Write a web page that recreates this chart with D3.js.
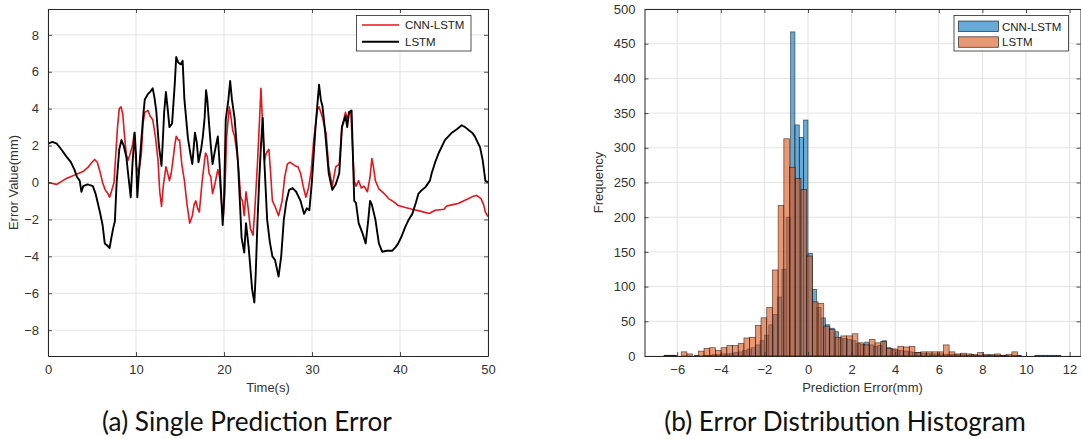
<!DOCTYPE html>
<html><head><meta charset="utf-8">
<script src="https://cdn.jsdelivr.net/npm/d3@7"></script>
<style>body{margin:0;background:#fff}svg{display:block}</style>
</head><body>
<svg id="c" width="1081" height="439"></svg>
<script>
// ---------- Data: (a) single prediction error ----------
const cnnLstmLine = [[0,0.0],[0.5,-0.05],[1,-0.1],[1.5,0.05],[2,0.2],[2.5,0.3],[3,0.4],[3.5,0.5],[4,0.6],[4.5,0.8],[5,1.1],[5.3,1.25],[5.6,1.1],[5.9,0.6],[6.2,0.0],[6.5,-0.4],[6.8,-0.6],[7,-0.8],[7.2,-0.5],[7.5,0.0],[7.7,1.5],[7.9,3.0],[8.1,4.0],[8.3,4.1],[8.5,3.7],[8.7,2.5],[8.9,1.5],[9.1,1.2],[9.3,1.5],[9.6,2.0],[9.8,2.7],[10.0,1.0],[10.1,0.8],[10.3,0.5],[10.6,1.5],[10.8,3.2],[11.0,3.8],[11.36,3.9],[11.6,3.6],[11.9,3.4],[12.2,2.5],[12.5,1.2],[12.7,-0.5],[12.9,-1.3],[13.1,-0.2],[13.4,0.85],[13.6,0.5],[13.8,0.1],[14.0,0.5],[14.2,1.2],[14.4,2.0],[14.57,2.5],[14.8,2.3],[14.95,2.3],[15.2,1.0],[15.5,0.1],[15.8,-1.2],[16.1,-2.2],[16.4,-1.8],[16.6,-1.2],[16.8,-1.0],[17.0,-1.4],[17.2,-1.6],[17.5,0.0],[17.9,1.6],[18.1,1.4],[18.3,0.5],[18.5,0.3],[18.7,-0.6],[19.0,0.0],[19.3,0.7],[19.5,0.3],[19.7,-1.0],[19.9,-2.0],[20.1,-0.5],[20.3,2.5],[20.6,4.1],[20.8,3.5],[21.0,2.8],[21.2,2.5],[21.5,1.5],[21.7,0.5],[21.9,-0.8],[22.1,-1.0],[22.3,-1.8],[22.5,-0.5],[22.7,-1.2],[23.0,-2.5],[23.3,-2.85],[23.5,-1.5],[23.8,1.0],[24.0,3.0],[24.2,5.1],[24.4,3.0],[24.6,1.2],[24.8,1.6],[25.1,1.8],[25.3,0.5],[25.5,-1.0],[25.8,-1.3],[26.2,-1.8],[26.6,-1.0],[26.9,0.3],[27.2,1.0],[27.5,1.1],[27.8,1.0],[28.1,0.9],[28.4,0.85],[28.7,0.5],[29.0,-0.2],[29.3,-0.8],[29.6,-0.3],[29.9,0.6],[30.2,2.3],[30.6,3.9],[30.8,4.1],[31.0,3.8],[31.2,3.5],[31.6,2.65],[31.9,0.85],[32.3,-0.2],[32.7,0.85],[33.1,1.0],[33.4,3.0],[33.8,3.8],[34.0,3.5],[34.2,3.7],[34.4,3.9],[34.6,2.0],[34.8,0.1],[35.0,-0.2],[35.3,0.1],[35.6,-0.3],[35.9,-0.2],[36.3,-0.5],[36.6,0.3],[36.8,1.3],[37.0,0.8],[37.2,0.1],[37.6,-0.35],[38.2,-0.6],[38.7,-0.87],[39.3,-1.05],[39.8,-1.25],[40.6,-1.35],[41.4,-1.45],[42.3,-1.55],[43.3,-1.68],[44.0,-1.5],[45.0,-1.45],[45.3,-1.27],[46.0,-1.2],[46.6,-1.14],[47.2,-1.0],[47.8,-0.87],[48.3,-0.75],[48.7,-0.7],[49.2,-0.87],[49.5,-1.2],[49.7,-1.6],[50,-1.85]];
const lstmLine = [[0,2.1],[0.5,2.2],[1.0,2.1],[1.5,1.8],[2.1,1.4],[2.6,1.1],[3.0,0.7],[3.3,0.3],[3.6,0.1],[3.8,-0.5],[4.0,-0.2],[4.5,-0.1],[5.1,-0.2],[5.4,-0.6],[5.9,-1.6],[6.2,-2.3],[6.45,-3.3],[6.7,-3.4],[7.0,-3.55],[7.2,-3.0],[7.4,-2.5],[7.6,-2.1],[7.8,0.0],[8.1,1.8],[8.35,2.3],[8.6,2.0],[8.9,1.4],[9.1,0.5],[9.4,-0.8],[9.6,1.0],[9.85,2.7],[10.0,1.5],[10.15,-0.8],[10.4,1.0],[10.8,3.5],[11.0,4.5],[11.36,4.8],[11.6,4.9],[11.9,5.1],[12.1,4.6],[12.3,3.9],[12.6,2.0],[12.9,0.9],[13.05,2.3],[13.2,3.8],[13.4,4.9],[13.6,4.0],[13.8,3.0],[14.1,3.2],[14.4,5.3],[14.57,6.8],[14.8,6.5],[15.1,6.4],[15.3,6.6],[15.5,4.5],[15.9,2.4],[16.2,1.5],[16.4,1.0],[16.7,2.7],[16.9,2.2],[17.1,1.1],[17.4,1.8],[17.6,2.5],[17.8,3.5],[17.96,5.0],[18.1,4.5],[18.3,3.2],[18.5,2.0],[18.7,1.0],[19.0,1.8],[19.3,2.5],[19.5,1.0],[19.85,-2.3],[20.0,-1.0],[20.2,3.4],[20.5,4.5],[20.7,5.5],[20.9,4.5],[21.2,3.5],[21.4,2.3],[21.6,1.0],[21.8,-1.0],[22.0,-3.0],[22.3,-3.8],[22.5,-2.2],[22.8,-3.5],[23.2,-5.8],[23.45,-6.5],[23.6,-5.0],[23.8,-2.2],[24.0,0.1],[24.2,2.0],[24.4,3.5],[24.6,1.0],[24.9,-2.0],[25.2,-3.2],[25.5,-4.0],[25.8,-4.2],[26.2,-5.1],[26.5,-4.0],[26.8,-2.0],[27.1,-1.0],[27.4,-0.4],[27.8,-0.3],[28.2,-0.5],[28.7,-1.0],[29.1,-1.7],[29.4,-1.4],[29.7,-1.5],[30.0,0.1],[30.4,3.0],[30.8,5.3],[31.0,4.5],[31.2,4.1],[31.5,2.7],[31.9,0.5],[32.3,-0.4],[32.7,-0.1],[33.1,0.5],[33.4,3.0],[33.8,3.6],[34.0,3.0],[34.2,3.8],[34.5,3.9],[34.8,-1.0],[35.0,-1.1],[35.3,-2.2],[35.7,-2.7],[36.1,-3.3],[36.4,-2.0],[36.6,-1.0],[36.8,-1.2],[37.2,-2.0],[37.6,-3.3],[37.97,-3.75],[38.5,-3.7],[39.1,-3.7],[39.5,-3.5],[39.8,-3.3],[40.2,-2.9],[40.6,-2.4],[41.0,-2.0],[41.4,-1.7],[41.8,-1.1],[42.1,-0.6],[42.5,-0.4],[42.9,-0.25],[43.4,0.1],[43.6,0.5],[44.0,1.1],[44.4,1.6],[44.8,2.0],[45.1,2.3],[45.5,2.5],[45.9,2.7],[46.5,2.9],[47.0,3.1],[47.4,3.0],[47.8,2.85],[48.2,2.7],[48.5,2.5],[48.8,2.2],[49.1,1.9],[49.4,1.2],[49.7,0.1],[50,0.0]];
const timeTicks = [0,10,20,30,40,50];
const errorTicks = [-8,-6,-4,-2,0,2,4,6,8];

// ---------- Data: (b) error distribution histogram ----------
const cnnBinStart = -6.6, cnnBinWidth = 0.2;
const cnnCounts = [1,1,1,0,0, 0,0,1,0,1, 1,2,2,3,3, 4,5,6,8,10, 12,16,22,30,45, 60,85,125,200,467, 333,315,340,148,96, 70,55,45,40,35, 26,25,24,22,18, 17,20,16,14,15, 22,12,10,8,8, 7,6,5,5,4, 4,3,3,3,2, 2,2,2,2,1, 2,1,1,1,1, 1,1,1,1,0, 1,1,0,0,0, 1,1,1,1,1, 1];
const lstmBinStart = -6.6, lstmBinWidth = 0.2615;
const lstmCounts = [1,1,0,6,3, 0,7,11,12,8, 12,15,15,18,26, 27,44,55,70,124, 217,313,272,256,240, 144,78,76,43,38, 27,29,29,32,19, 16,24,19,21,11, 10,14,13,14,5, 6,6,6,6,16, 6,3,4,3,2, 5,2,2,3,1, 2,6];
const errTicksB = [-6,-4,-2,0,2,4,6,8,10,12];
const freqTicks = [0,50,100,150,200,250,300,350,400,450,500];

const seriesNames = ["CNN-LSTM","LSTM"];
const captions = ["(a) Single Prediction Error","(b) Error Distribution Histogram"];

// ---------- Drawing ----------
const svg = d3.select("#c");
const AX = "#262626", GRID = "#e3e3e3";
const tickFont = "'Liberation Sans', Arial, Helvetica, sans-serif";

function axesFrame(g, x, y, xt, yt) {
  const [x0,x1] = x.range(), [y0,y1] = y.range();
  g.append("g").selectAll("line").data(xt).join("line")
    .attr("x1",d=>x(d)).attr("x2",d=>x(d)).attr("y1",y0).attr("y2",y1)
    .attr("stroke",GRID).attr("stroke-width",1);
  g.append("g").selectAll("line").data(yt).join("line")
    .attr("x1",x0).attr("x2",x1).attr("y1",d=>y(d)).attr("y2",d=>y(d))
    .attr("stroke",GRID).attr("stroke-width",1);
}
function axesOverlay(g, x, y, xt, yt, xlabel, ylabel, ylabelX) {
  const [x0,x1] = x.range(), [y0,y1] = y.range();
  const bx = d3.axisBottom(x).tickValues(xt).tickSizeInner(-4).tickSizeOuter(0).tickPadding(9);
  const lx = d3.axisLeft(y).tickValues(yt).tickSizeInner(-4).tickSizeOuter(0).tickPadding(9);
  const tx = d3.axisTop(x).tickValues(xt).tickSizeInner(-4).tickSizeOuter(0).tickFormat("");
  const rx = d3.axisRight(y).tickValues(yt).tickSizeInner(-4).tickSizeOuter(0).tickFormat("");
  const style = s => { s.select(".domain").attr("stroke",AX).attr("stroke-width",1);
    s.selectAll(".tick line").attr("stroke",AX).attr("stroke-width",0.8);
    s.selectAll(".tick text").attr("fill","#333").style("font-family",tickFont).style("font-size","13px"); };
  g.append("g").attr("transform",`translate(0,${y0})`).call(bx).call(style);
  g.append("g").attr("transform",`translate(${x0},0)`).call(lx).call(style);
  g.append("g").attr("transform",`translate(0,${y1})`).call(tx).call(style);
  g.append("g").attr("transform",`translate(${x1},0)`).call(rx).call(style);
  g.append("text").attr("x",(x0+x1)/2).attr("y",392).attr("text-anchor","middle")
    .attr("fill","#333").style("font-family",tickFont).style("font-size","13px").text(xlabel);
  g.append("text").attr("transform",`translate(${ylabelX},${(y0+y1)/2}) rotate(-90)`).attr("text-anchor","middle")
    .attr("fill","#333").style("font-family",tickFont).style("font-size","13px").text(ylabel);
}

// (a)
const xA = d3.scaleLinear().domain([0,50]).range([48,488]);
const yA = d3.scaleLinear().domain([-9.4,9.4]).range([356,9]);
const gA = svg.append("g");
axesFrame(gA, xA, yA, timeTicks, errorTicks);
svg.append("clipPath").attr("id","clipA").append("rect").attr("x",48).attr("y",9).attr("width",440).attr("height",347);
const line = d3.line().x(d=>xA(d[0])).y(d=>yA(d[1]));
gA.append("path").datum(cnnLstmLine).attr("clip-path","url(#clipA)").attr("d",line)
  .attr("fill","none").attr("stroke","#e8141b").attr("stroke-width",1.6).attr("stroke-linejoin","round");
gA.append("path").datum(lstmLine).attr("clip-path","url(#clipA)").attr("d",line)
  .attr("fill","none").attr("stroke","#000").attr("stroke-width",1.9).attr("stroke-linejoin","round");
axesOverlay(gA, xA, yA, timeTicks, errorTicks, "Time(s)", "Error Value(mm)", 18);
const lgA = gA.append("g");
lgA.append("rect").attr("x",356.5).attr("y",15.5).attr("width",114.5).attr("height",35.5)
  .attr("fill","#fff").attr("stroke",AX).attr("stroke-width",0.8);
[["#e8141b",1.6],["#000",1.9]].forEach((c,i)=>{
  const yy = 25 + i*16.7;
  lgA.append("line").attr("x1",362).attr("x2",399).attr("y1",yy).attr("y2",yy).attr("stroke",c[0]).attr("stroke-width",c[1]);
  lgA.append("text").attr("x",405).attr("y",yy+4).attr("fill","#222").style("font-family",tickFont).style("font-size","11.5px").text(seriesNames[i]);
});

// (b)
const xB = d3.scaleLinear().domain([-7.5,12.5]).range([644.5,1080.5]);
const yB = d3.scaleLinear().domain([0,500]).range([356,9]);
const gB = svg.append("g");
axesFrame(gB, xB, yB, errTicksB, freqTicks);
svg.append("clipPath").attr("id","clipB").append("rect").attr("x",644.5).attr("y",9).attr("width",436).attr("height",347);
const BLUE = "#0072BD", ORANGE = "#D95319";
function bars(counts, start, w, color) {
  gB.append("g").attr("clip-path","url(#clipB)").selectAll("rect").data(counts).join("rect")
    .attr("x",(d,i)=>xB(start+i*w)).attr("width",(d,i)=>xB(start+(i+1)*w)-xB(start+i*w))
    .attr("y",d=>yB(d)).attr("height",d=>yB(0)-yB(d))
    .attr("fill",color).attr("fill-opacity",0.6)
    .attr("stroke","#000").attr("stroke-opacity",0.65).attr("stroke-width",0.7);
}
bars(cnnCounts, cnnBinStart, cnnBinWidth, BLUE);
bars(lstmCounts, lstmBinStart, lstmBinWidth, ORANGE);
axesOverlay(gB, xB, yB, errTicksB, freqTicks, "Prediction Error(mm)", "Frequency", 603);
const lgB = gB.append("g");
lgB.append("rect").attr("x",954).attr("y",15.5).attr("width",114.5).attr("height",35.5)
  .attr("fill","#fff").attr("stroke",AX).attr("stroke-width",0.8);
[BLUE,ORANGE].forEach((c,i)=>{
  const yy = 21 + i*15.8;
  lgB.append("rect").attr("x",958.5).attr("y",yy).attr("width",40).attr("height",10.5)
    .attr("fill",c).attr("fill-opacity",0.6).attr("stroke","#000").attr("stroke-opacity",0.7).attr("stroke-width",0.8);
  lgB.append("text").attr("x",1002).attr("y",yy+9.5).attr("fill","#222").style("font-family",tickFont).style("font-size","11.5px").text(seriesNames[i]);
});

// captions
[[247,captions[0]],[845,captions[1]]].forEach(([cx,t])=>{
  svg.append("text").attr("x",cx).attr("y",431).attr("text-anchor","middle")
    .attr("fill","#111").style("font-family","Lato, 'Open Sans', sans-serif").style("font-size","26.2px").text(t);
});
</script>
</body></html>
